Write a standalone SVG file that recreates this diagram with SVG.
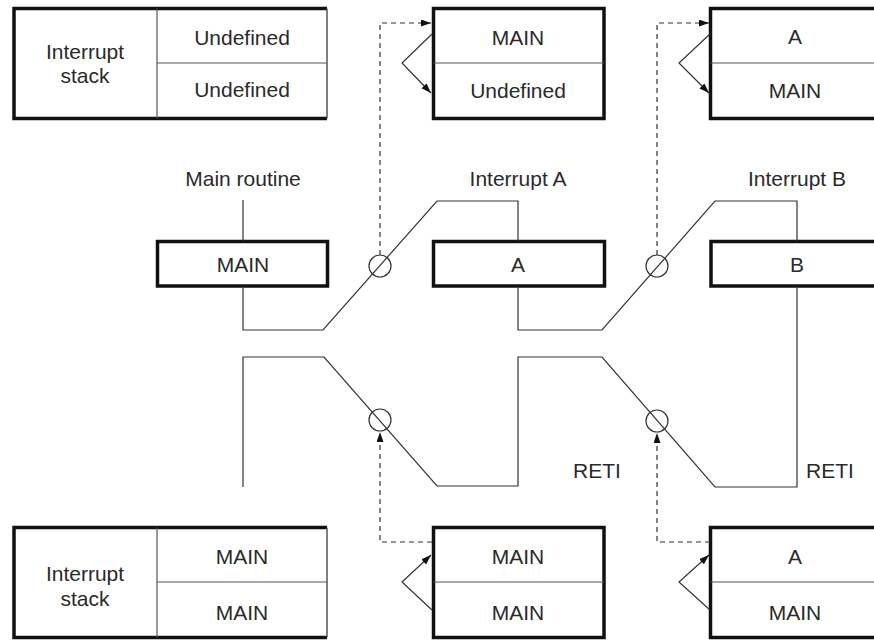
<svg xmlns="http://www.w3.org/2000/svg" width="874" height="641" viewBox="0 0 874 641">
<defs>
<marker id="ah" markerUnits="userSpaceOnUse" markerWidth="11" markerHeight="8" refX="10" refY="3.5" orient="auto">
<path d="M0,0 L10,3.5 L0,7 z" fill="#111"/>
</marker>
<style>
text{font-family:"Liberation Sans",Arial,sans-serif;font-size:21px;fill:#2a2a2a;text-anchor:middle}
.box{fill:#fff;stroke:#111;stroke-width:3.5}
.div{stroke:#555;stroke-width:1.2;fill:none}
.thin{stroke:#555;stroke-width:1.5;fill:none}
.ln{stroke:#333;stroke-width:1.2;fill:none}
.dash{stroke:#333;stroke-width:1.2;fill:none;stroke-dasharray:5,4}
.ring{stroke:#333;stroke-width:1.2;fill:none}
</style>
</defs>
<rect width="874" height="641" fill="#fff"/>

<g id="stack-top">
<rect x="14" y="8.5" width="313" height="110" fill="#fff"/>
<path d="M327,8.5 H14 V118.5 H327" stroke="#111" stroke-width="3.5" fill="none"/>
<line x1="327" y1="8.5" x2="327" y2="118.5" class="thin"/>
<line x1="157" y1="8.5" x2="157" y2="118.5" class="div"/>
<line x1="157" y1="63" x2="327" y2="63" class="div"/>
<text x="85" y="59">Interrupt</text>
<text x="85" y="83">stack</text>
<text x="242" y="45">Undefined</text>
<text x="242" y="97">Undefined</text>
</g>

<g id="stack-top-2">
<rect x="433.5" y="8.5" width="170.5" height="110" class="box"/>
<line x1="433.5" y1="63" x2="604" y2="63" class="div"/>
<text x="518" y="45">MAIN</text>
<text x="518" y="98">Undefined</text>
</g>

<g id="stack-top-3">
<rect x="710.5" y="8.5" width="200" height="110" class="box"/>
<line x1="710.5" y1="63" x2="874" y2="63" class="div"/>
<text x="795" y="44">A</text>
<text x="795" y="98">MAIN</text>
</g>

<g id="label-main"><text x="243" y="186">Main routine</text></g>
<g id="label-a"><text x="518" y="186">Interrupt A</text></g>
<g id="label-b"><text x="797" y="186">Interrupt B</text></g>

<g id="box-main">
<rect x="157.5" y="241.5" width="170" height="44.5" class="box"/>
<text x="243" y="272">MAIN</text>
</g>
<g id="box-a">
<rect x="433.5" y="241.5" width="171" height="44.5" class="box"/>
<text x="518" y="272">A</text>
</g>
<g id="box-b">
<rect x="711" y="241.5" width="200" height="44.5" class="box"/>
<text x="797" y="272">B</text>
</g>

<g id="reti-1"><text x="597" y="478">RETI</text></g>
<g id="reti-2"><text x="830" y="478">RETI</text></g>

<g id="stack-bottom">
<rect x="14" y="527.5" width="313" height="110" fill="#fff"/>
<path d="M327,527.5 H14 V637.5 H327" stroke="#111" stroke-width="3.5" fill="none"/>
<line x1="327" y1="527.5" x2="327" y2="637.5" class="thin"/>
<line x1="157" y1="527.5" x2="157" y2="637.5" class="div"/>
<line x1="157" y1="582" x2="327" y2="582" class="div"/>
<text x="85" y="581">Interrupt</text>
<text x="85" y="606">stack</text>
<text x="242" y="564">MAIN</text>
<text x="242" y="620">MAIN</text>
</g>

<g id="stack-bottom-2">
<rect x="433.5" y="527.5" width="170.5" height="110" class="box"/>
<line x1="433.5" y1="582" x2="604" y2="582" class="div"/>
<text x="518" y="564">MAIN</text>
<text x="518" y="620">MAIN</text>
</g>

<g id="stack-bottom-3">
<rect x="710.5" y="527.5" width="200" height="110" class="box"/>
<line x1="710.5" y1="582" x2="874" y2="582" class="div"/>
<text x="795" y="564">A</text>
<text x="795" y="620">MAIN</text>
</g>

<g id="connectors">
<path class="ln" d="M243,200 V241"/>
<path class="ln" d="M243,286 V330 H323 L437,201 H518 V241"/>
<path class="ln" d="M518,286 V330 H602 L715,201 H797 V241"/>
<path class="ln" d="M243,487 V357 H324 L437,486 H518 V357 H602 L715,487 H797 V286"/>
<circle class="ring" cx="380" cy="266" r="11"/>
<circle class="ring" cx="657" cy="266" r="11"/>
<circle class="ring" cx="380" cy="420" r="11"/>
<circle class="ring" cx="657" cy="421" r="11"/>
<path class="dash" d="M380,255 V23 H431" marker-end="url(#ah)"/>
<path class="dash" d="M657,255 V23 H709" marker-end="url(#ah)"/>
<path class="dash" d="M432,542 H380 V432" marker-end="url(#ah)"/>
<path class="dash" d="M710,542 H657 V433" marker-end="url(#ah)"/>
<path class="ln" d="M432,34 L402,63 L431,93" marker-end="url(#ah)"/>
<path class="ln" d="M710,34 L679,63 L709,93" marker-end="url(#ah)"/>
<path class="ln" d="M432,610 L402,582 L431,555" marker-end="url(#ah)"/>
<path class="ln" d="M710,610 L679,582 L709,555" marker-end="url(#ah)"/>
</g>
</svg>
